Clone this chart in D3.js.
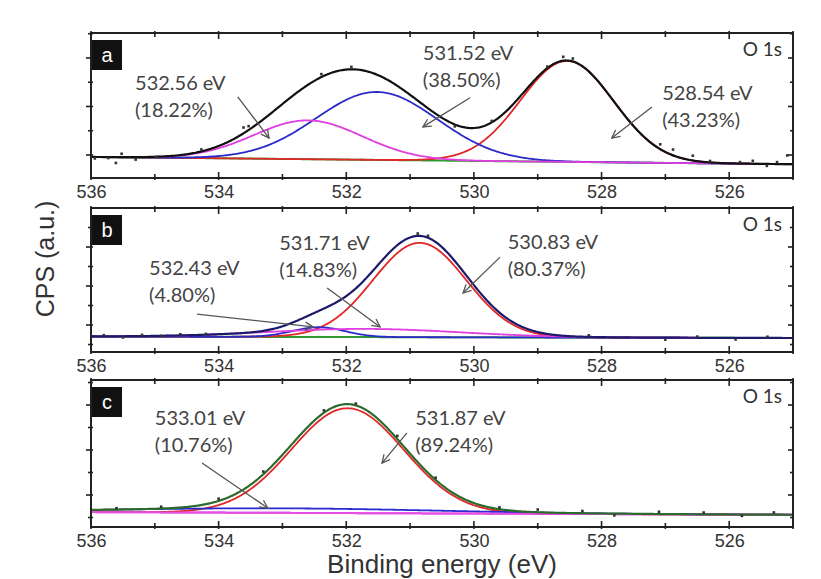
<!DOCTYPE html>
<html>
<head>
<meta charset="utf-8">
<script src="https://cdn.jsdelivr.net/npm/d3@7"></script>
<style>
  body { margin: 0; background: #fff; }
</style>
</head>
<body>
<svg id="chart" width="821" height="579"></svg>
<script>
// ---- data ----
const energyDomain = [536, 525];
const xTickValues = [536, 534, 532, 530, 528, 526];
const xMinorValues = [535, 533, 531, 529, 527, 525];
const yMajorValues = [0, 1, 2];
const yMinorValues = [-0.5, 0.5, 1.5, 2.5];
const panelLetters = ["a", "b", "c"];
const coreLevel = "O 1s";

// background (Shirley-like, linear here): value at 536 eV and at 525 eV
const backgroundA = [-0.04, -0.19];
const backgroundB = [-0.295, -0.333];
const backgroundC = [-0.38, -0.44];

// fitted components: centre (eV), height above background, gaussian sigma (eV)
const centersA = [528.54, 531.52, 532.60];
const heightsA = [2.08, 1.40, 0.80];
const sigmasA = [0.73, 0.95, 0.85];
const peakLabelsA = ["532.56 eV", "531.52 eV", "528.54 eV"];
const peakShareA = ["(18.22%)", "(38.50%)", "(43.23%)"];

const centersB = [530.85, 532.43, 531.71];
const heightsB = [2.42, 0.25, 0.21];
const sigmasB = [0.73, 0.41, 1.50];
const peakLabelsB = ["532.43 eV", "531.71 eV", "530.83 eV"];
const peakShareB = ["(4.80%)", "(14.83%)", "(80.37%)"];

const centersC = [531.98, 533.01];
const heightsC = [2.33, 0.10];
const sigmasC = [0.88, 2.50];
const peakLabelsC = ["533.01 eV", "531.87 eV"];
const peakShareC = ["(10.76%)", "(89.24%)"];

// measured points that sit visibly off the envelope: energy and offset from the fit
const dotsEnergyA = [535.94, 535.73, 535.61, 535.52, 535.30, 534.98, 534.27, 533.61, 533.53, 532.39, 531.92,
  530.30, 529.72, 528.60, 528.45, 528.85, 527.08, 526.88, 526.57, 526.30, 525.83, 525.63, 525.41, 525.25, 525.09];
const dotsOffsetA = [-0.03, -0.02, -0.12, 0.07, -0.05, 0.0, 0.04, 0.12, 0.08, 0.06, 0.05,
  -0.04, 0.03, 0.08, 0.06, 0.03, 0.10, 0.12, 0.10, 0.03, 0.03, 0.06, -0.04, 0.04, 0.18];
const dotsEnergyB = [535.8, 535.5, 535.2, 534.9, 534.6, 534.2, 530.88, 530.72, 528.2, 527.0, 526.5, 525.9, 525.4];
const dotsOffsetB = [0.03, -0.03, 0.03, 0.0, 0.03, 0.02, 0.06, 0.05, 0.04, -0.05, 0.03, -0.04, 0.03];
const dotsEnergyC = [535.6, 534.9, 534.0, 533.3, 532.35, 531.85, 531.2, 530.6, 529.6, 529.0, 528.3, 527.8,
  527.1, 526.4, 525.8, 525.3];
const dotsOffsetC = [0.03, 0.04, 0.05, 0.06, 0.05, 0.04, 0.07, 0.05, 0.04, 0.06, 0.05, -0.04, 0.05, 0.04, -0.03, 0.05];

// annotation anchors in data units: [eV, value] for text, arrow tail and arrow tip
const notesA = [
  { text: [535.31, 1.34], from: [533.70, 1.20], to: [533.21, 0.35] },
  { text: [530.80, 1.96], from: [530.06, 1.18], to: [530.80, 0.58] },
  { text: [527.05, 1.13], from: [527.21, 0.99], to: [527.84, 0.35] }
];
const notesB = [
  { text: [535.09, 1.28], from: [534.34, 0.28], to: [532.52, -0.05] },
  { text: [533.05, 1.92], from: [532.30, 0.95], to: [531.47, -0.05] },
  { text: [529.47, 1.95], from: [529.59, 1.74], to: [530.17, 0.82] }
];
const notesC = [
  { text: [535.00, 1.56], from: [534.26, 0.71], to: [533.23, -0.29] },
  { text: [530.92, 1.56], from: [531.05, 1.38], to: [531.44, 0.71] }
];

// ---- layout / styles ----
const W = 821, H = 579;
const plotLeft = 91, plotRight = 793;
const panelBoxes = [
  { top: 33, bottom: 178, yDomain: [-0.474, 2.515] },
  { top: 208, bottom: 352, yDomain: [-0.692, 3.0] },
  { top: 380, bottom: 527, yDomain: [-0.711, 2.556] }
];
const componentColors = [
  ["#e02828", "#2b2bc8", "#e03ee0"],
  ["#e02828", "#2b2bc8", "#e03ee0"],
  ["#e02828", "#2b2bd0"]
];
const backgroundColors = ["#2f9a33", "#2f9a33", "#e44ee4"];
const envelopeColors = ["#111111", "#1b1b6a", "#2d6a2d"];
const noteFont = "Lato, 'Open Sans', sans-serif";
const axisFont = "'Liberation Sans', Arial, sans-serif";

const panels = [
  { bg: backgroundA, c: centersA, h: heightsA, s: sigmasA, labels: peakLabelsA, share: peakShareA,
    dotsE: dotsEnergyA, dotsO: dotsOffsetA, notes: notesA },
  { bg: backgroundB, c: centersB, h: heightsB, s: sigmasB, labels: peakLabelsB, share: peakShareB,
    dotsE: dotsEnergyB, dotsO: dotsOffsetB, notes: notesB },
  { bg: backgroundC, c: centersC, h: heightsC, s: sigmasC, labels: peakLabelsC, share: peakShareC,
    dotsE: dotsEnergyC, dotsO: dotsOffsetC, notes: notesC }
];

const svg = d3.select("#chart");
svg.append("rect").attr("width", W).attr("height", H).attr("fill", "#fff");

const defs = svg.append("defs");
defs.append("marker")
  .attr("id", "arrow")
  .attr("viewBox", "0 0 10 10")
  .attr("refX", 9).attr("refY", 5)
  .attr("markerWidth", 10).attr("markerHeight", 10)
  .attr("markerUnits", "userSpaceOnUse")
  .attr("orient", "auto")
  .append("path")
  .attr("d", "M1,1 L9,5 L1,9")
  .attr("fill", "none")
  .attr("stroke", "#555")
  .attr("stroke-width", 1.3);

const x = d3.scaleLinear().domain(energyDomain).range([plotLeft, plotRight]);
const energies = d3.range(525, 536.0001, 0.02);

function gauss(e, c, h, s) {
  return h * Math.exp(-((e - c) * (e - c)) / (2 * s * s));
}

panels.forEach((p, i) => {
  const box = panelBoxes[i];
  const y = d3.scaleLinear().domain(box.yDomain).range([box.bottom, box.top]);
  const g = svg.append("g");

  const bgAt = e => p.bg[0] + (p.bg[1] - p.bg[0]) * (energyDomain[0] - e) / (energyDomain[0] - energyDomain[1]);
  const envAt = e => bgAt(e) + d3.sum(p.c, (c, k) => gauss(e, c, p.h[k], p.s[k]));

  defs.append("clipPath").attr("id", "clip" + i)
    .append("rect")
    .attr("x", plotLeft).attr("y", box.top)
    .attr("width", plotRight - plotLeft).attr("height", box.bottom - box.top);

  const plot = g.append("g").attr("clip-path", "url(#clip" + i + ")");
  const line = d3.line().x(d => x(d[0])).y(d => y(d[1]));

  // background
  plot.append("path")
    .attr("d", line(energies.map(e => [e, bgAt(e)])))
    .attr("fill", "none")
    .attr("stroke", backgroundColors[i])
    .attr("stroke-width", 2);

  // components
  p.c.forEach((c, k) => {
    plot.append("path")
      .attr("d", line(energies.map(e => [e, bgAt(e) + gauss(e, c, p.h[k], p.s[k])])))
      .attr("fill", "none")
      .attr("stroke", componentColors[i][k])
      .attr("stroke-width", 1.8);
  });

  // in panel c the background is the pink line and sits over the components
  if (i === 2) {
    plot.append("path")
      .attr("d", line(energies.map(e => [e, bgAt(e)])))
      .attr("fill", "none")
      .attr("stroke", backgroundColors[i])
      .attr("stroke-width", 2);
  }

  // envelope
  plot.append("path")
    .attr("d", line(energies.map(e => [e, envAt(e)])))
    .attr("fill", "none")
    .attr("stroke", envelopeColors[i])
    .attr("stroke-width", 2.2);

  // measured points
  plot.selectAll("rect.dot")
    .data(p.dotsE.map((e, k) => [e, envAt(e) + p.dotsO[k]]))
    .join("rect")
    .attr("class", "dot")
    .attr("x", d => x(d[0]) - 1.3)
    .attr("y", d => y(d[1]) - 1.3)
    .attr("width", 2.6).attr("height", 2.6)
    .attr("fill", "#333");

  // frame
  g.append("rect")
    .attr("x", plotLeft).attr("y", box.top)
    .attr("width", plotRight - plotLeft).attr("height", box.bottom - box.top)
    .attr("fill", "none")
    .attr("stroke", "#222")
    .attr("stroke-width", 2);

  // x ticks (top and bottom, inward)
  const tickG = g.append("g").attr("stroke", "#222").attr("stroke-width", 1.6);
  xTickValues.concat(xMinorValues).forEach(v => {
    const len = xTickValues.includes(v) ? 6 : 4;
    tickG.append("line").attr("x1", x(v)).attr("x2", x(v))
      .attr("y1", box.bottom + 2).attr("y2", box.bottom - len);
    tickG.append("line").attr("x1", x(v)).attr("x2", x(v))
      .attr("y1", box.top - 2).attr("y2", box.top + len);
  });
  // y ticks
  yMajorValues.concat(yMinorValues).forEach(v => {
    const yy = y(v);
    if (yy < box.top - 0.5 || yy > box.bottom + 0.5) return;
    const len = yMajorValues.includes(v) ? 5 : 3;
    tickG.append("line").attr("x1", plotLeft - len).attr("x2", plotLeft + 2).attr("y1", yy).attr("y2", yy);
    tickG.append("line").attr("x1", plotRight - len).attr("x2", plotRight + 1).attr("y1", yy).attr("y2", yy);
  });

  // x tick labels
  const axis = d3.axisBottom(x).tickValues(xTickValues).tickSize(0).tickPadding(7).tickFormat(d3.format("d"));
  const ax = g.append("g")
    .attr("transform", "translate(0," + box.bottom + ")")
    .call(axis);
  ax.select(".domain").remove();
  ax.selectAll("text")
    .attr("font-family", axisFont)
    .attr("font-size", 18)
    .attr("fill", "#333");

  // panel letter
  g.append("rect")
    .attr("x", plotLeft + 1).attr("y", box.top + 7)
    .attr("width", 30).attr("height", 30)
    .attr("fill", "#111");
  g.append("text")
    .attr("x", plotLeft + 16).attr("y", box.top + 29)
    .attr("text-anchor", "middle")
    .attr("font-family", axisFont)
    .attr("font-size", 20)
    .attr("fill", "#fff")
    .text(panelLetters[i]);

  // core level tag
  g.append("text")
    .attr("x", plotRight - 11).attr("y", box.top + 23)
    .attr("text-anchor", "end")
    .attr("font-family", noteFont)
    .attr("font-size", 19)
    .attr("fill", "#333")
    .text(coreLevel);

  // annotations
  p.notes.forEach((n, k) => {
    const t = g.append("text")
      .attr("font-family", noteFont)
      .attr("font-size", 20)
      .attr("fill", "#444");
    t.append("tspan").attr("x", x(n.text[0])).attr("y", y(n.text[1])).text(p.labels[k]);
    t.append("tspan").attr("x", x(n.text[0])).attr("dy", 27).text(p.share[k]);
    g.append("line")
      .attr("x1", x(n.from[0])).attr("y1", y(n.from[1]))
      .attr("x2", x(n.to[0])).attr("y2", y(n.to[1]))
      .attr("stroke", "#555")
      .attr("stroke-width", 1.3)
      .attr("marker-end", "url(#arrow)");
  });
});

// axis titles
svg.append("text")
  .attr("x", 442).attr("y", 573)
  .attr("text-anchor", "middle")
  .attr("font-family", axisFont)
  .attr("font-size", 26)
  .attr("fill", "#333")
  .text("Binding energy (eV)");

svg.append("text")
  .attr("transform", "translate(54,259) rotate(-90)")
  .attr("text-anchor", "middle")
  .attr("font-family", axisFont)
  .attr("font-size", 25)
  .attr("fill", "#333")
  .text("CPS (a.u.)");
</script>
</body>
</html>
